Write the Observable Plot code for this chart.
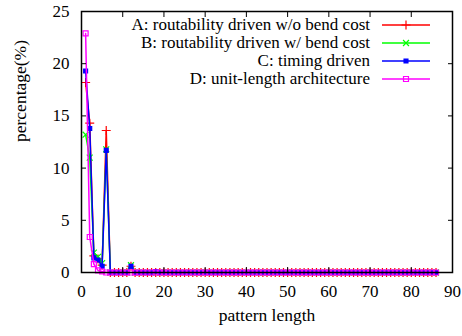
<!DOCTYPE html>
<html><head><meta charset="utf-8">
<script src="https://cdn.jsdelivr.net/npm/d3@7"></script>
<script src="https://cdn.jsdelivr.net/npm/@observablehq/plot@0.6"></script>
<style>
body{margin:0;background:#fff;}
#wrap{position:relative;width:462px;height:336px;font-family:"Liberation Serif","Times New Roman",serif;background:#fff;}
#legend{position:absolute;left:0;top:0;width:462px;height:100px;pointer-events:none;}
.row{position:absolute;right:92px;height:18px;line-height:18px;font-size:17px;white-space:nowrap;text-align:right;}
.sample{position:absolute;left:380px;width:52px;height:18px;}
</style></head><body><div id="wrap"></div>
<script>
const patternLength = [1,2,3,4,5,6,7,8,9,10,11,12,13,14,15,16,17,18,19,20,21,22,23,24,25,26,27,28,29,30,31,32,33,34,35,36,37,38,39,40,41,42,43,44,45,46,47,48,49,50,51,52,53,54,55,56,57,58,59,60,61,62,63,64,65,66,67,68,69,70,71,72,73,74,75,76,77,78,79,80,81,82,83,84,85,86];
const seriesA = [18.2,14.3,1.6,1.3,0.7,13.6,0,0,0,0, 0,0.6,0,0,0,0,0,0,0,0, 0,0,0,0,0,0,0,0,0,0, 0,0,0,0,0,0,0,0,0,0, 0,0,0,0,0,0,0,0,0,0, 0,0,0,0,0,0,0,0,0,0, 0,0,0,0,0,0,0,0,0,0, 0,0,0,0,0,0,0,0,0,0, 0,0,0,0,0,0];
const seriesB = [13.2,11.0,1.9,1.5,0.9,11.8,0,0,0,0, 0,0.7,0,0,0,0,0,0,0,0, 0,0,0,0,0,0,0,0,0,0, 0,0,0,0,0,0,0,0,0,0, 0,0,0,0,0,0,0,0,0,0, 0,0,0,0,0,0,0,0,0,0, 0,0,0,0,0,0,0,0,0,0, 0,0,0,0,0,0,0,0,0,0, 0,0,0,0,0,0];
const seriesC = [19.3,13.8,1.4,1.2,0.6,11.7,0,0,0,0, 0,0.6,0,0,0,0,0,0.1,0,0, 0,0,0,0,0,0,0,0,0,0, 0,0,0,0,0,0,0,0,0,0, 0,0,0,0,0,0,0,0,0,0, 0,0,0,0,0,0,0,0,0,0, 0,0,0,0,0,0,0,0,0,0, 0,0,0,0,0,0,0,0,0,0, 0,0,0,0,0,0];
const seriesD = [22.9,3.4,0.8,0.2,0.1,0,0,0,0,0, 0,0,0,0,0,0,0,0,0,0, 0,0,0,0,0,0,0,0,0,0, 0,0,0,0,0,0,0,0,0,0, 0,0,0,0,0,0,0,0,0,0, 0,0,0,0,0,0,0,0,0,0, 0,0,0,0,0,0,0,0,0,0, 0,0,0,0,0,0,0,0,0,0, 0,0,0,0,0,0];
const seriesNames = ["A: routability driven w/o bend cost","B: routability driven w/ bend cost","C: timing driven","D: unit-length architecture"];
const xTicks = [0,10,20,30,40,50,60,70,80,90];
const yTicks = [0,5,10,15,20,25];
const xLabel = "pattern length";
const yLabel = "percentage(%)";

const colors = ["#ff0000","#00ff00","#0000ff","#ff00ff"];
const symbols = ["plus","times","square","square"];
const fills = [null,null,"#0000ff","none"];
const radii = [3,2.8,2.2,2.8];
const allSeries = [seriesA,seriesB,seriesC,seriesD];

const seriesMarks = allSeries.flatMap((vals,i)=>{
  const rows = patternLength.map((x,j)=>({x, y: vals[j]}));
  const dotOpts = {x:"x", y:"y", symbol: symbols[i], r: radii[i], stroke: colors[i], strokeWidth: 1.2};
  if (fills[i]) dotOpts.fill = fills[i];
  return [
    Plot.line(rows, {x:"x", y:"y", stroke: colors[i], strokeWidth: 1.5}),
    Plot.dot(rows, dotOpts)
  ];
});

const chart = Plot.plot({
  width: 462, height: 336,
  marginLeft: 81, marginRight: 10, marginTop: 11, marginBottom: 64,
  x: {domain: [0, 90]},
  y: {domain: [0, 25]},
  style: {fontFamily: '"Liberation Serif","Times New Roman",serif', fontSize: "17px", color: "black", background: "white", overflow: "visible"},
  marks: [
    ...seriesMarks,
    Plot.frame({stroke: "black", strokeWidth: 1.5}),
    Plot.axisX({anchor: "bottom", ticks: xTicks, tickSize: -5, tickPadding: 17, label: null, fontSize: 17}),
    Plot.axisX({anchor: "top", ticks: xTicks, tickSize: -5, tickFormat: () => "", label: null}),
    Plot.axisY({anchor: "left", ticks: yTicks, tickSize: -5, tickPadding: 17, label: null, fontSize: 17}),
    Plot.axisY({anchor: "right", ticks: yTicks, tickSize: -5, tickFormat: () => "", label: null}),
    Plot.text([xLabel], {text: d => d, frameAnchor: "bottom", dy: 48, fontSize: 17.5, fill: "black"}),
    Plot.text([yLabel], {text: d => d, frameAnchor: "left", rotate: -90, dx: -61, fontSize: 17.5, fill: "black"})
  ]
});
const wrap = document.getElementById("wrap");
wrap.appendChild(chart);

const legend = document.createElement("div");
legend.id = "legend";
wrap.appendChild(legend);
seriesNames.forEach((name,i)=>{
  const top = 16 + i*18;
  const row = document.createElement("div");
  row.className = "row"; row.style.top = top + "px"; row.textContent = name;
  legend.appendChild(row);
  const s = d3.create("svg").attr("class","sample").attr("width",52).attr("height",18).style("top", top + "px");
  s.append("line").attr("x1",2).attr("x2",50).attr("y1",9).attr("y2",9).attr("stroke",colors[i]).attr("stroke-width",1.5);
  const symType = {plus: d3.symbolPlus, times: d3.symbolTimes, square: d3.symbolSquare}[symbols[i]];
  s.append("path").attr("d", d3.symbol(symType, Math.PI*radii[i]*radii[i])()).attr("transform","translate(26,9)")
    .attr("stroke", colors[i]).attr("stroke-width",1.2).attr("fill", fills[i] || "none");
  legend.appendChild(s.node());
});
</script></body></html>
